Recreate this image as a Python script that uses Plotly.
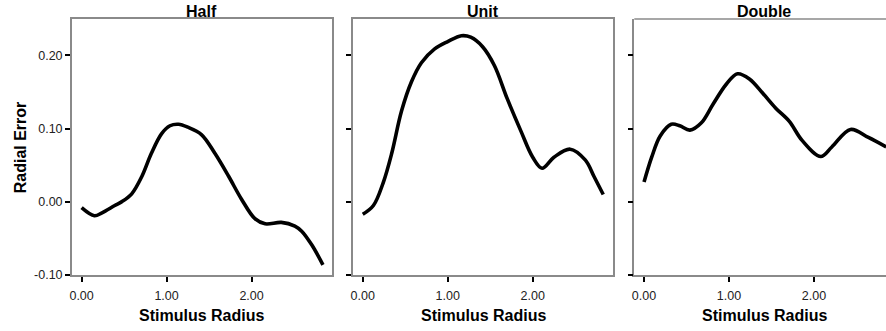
import plotly.graph_objects as go

# ---- data ----
panel_titles = ["Half", "Unit", "Double"]

half_x = [0.00, 0.15, 0.24, 0.39, 0.47, 0.59, 0.71, 0.82, 0.94, 1.04, 1.14, 1.25, 1.41, 1.57, 1.73, 1.88, 2.04, 2.16, 2.35, 2.51, 2.59, 2.71, 2.84]
half_y = [-0.008, -0.019, -0.015, -0.005, 0.000, 0.011, 0.035, 0.066, 0.093, 0.104, 0.106, 0.102, 0.092, 0.066, 0.035, 0.004, -0.023, -0.030, -0.028, -0.033, -0.040, -0.059, -0.086]

unit_x = [0.00, 0.125, 0.24, 0.34, 0.456, 0.573, 0.69, 0.846, 1.00, 1.16, 1.27, 1.41, 1.55, 1.70, 1.86, 2.00, 2.11, 2.25, 2.44, 2.62, 2.72, 2.83]
unit_y = [-0.017, -0.005, 0.026, 0.066, 0.124, 0.164, 0.190, 0.209, 0.219, 0.227, 0.225, 0.212, 0.186, 0.141, 0.097, 0.061, 0.046, 0.061, 0.072, 0.057, 0.035, 0.010]

double_x = [0.00, 0.09, 0.19, 0.32, 0.42, 0.54, 0.675, 0.81, 0.97, 1.10, 1.24, 1.40, 1.55, 1.71, 1.86, 2.08, 2.21, 2.43, 2.64, 2.85]
double_y = [0.027, 0.061, 0.090, 0.106, 0.104, 0.098, 0.108, 0.133, 0.161, 0.175, 0.168, 0.148, 0.128, 0.110, 0.084, 0.062, 0.075, 0.099, 0.088, 0.075]

x_tickvals = [0.0, 1.0, 2.0]
x_ticktext = ["0.00", "1.00", "2.00"]
y_tickvals = [-0.10, 0.0, 0.10, 0.20]
y_ticktext = ["-0.10", "0.00", "0.10", "0.20"]

x_title = "Stimulus Radius"
y_title = "Radial Error"

# ---- layout geometry (pixels) ----
W, H = 886, 331
top_px, bot_px = 19.3, 281.0
panels_px = [(70.0, 330.6), (351.8, 612.4), (633.7, 894.3)]
x_range_full = [-0.115, 2.945]
y_range = [-0.10, 0.25]

ydom = [1 - bot_px / H, 1 - top_px / H]

FONT = "Liberation Sans, Arial, sans-serif"
axis_col = "#8a8a8a"

fig = go.Figure()
series = [(half_x, half_y), (unit_x, unit_y), (double_x, double_y)]
for i, (xs, ys) in enumerate(series):
    sfx = "" if i == 0 else str(i + 1)
    fig.add_trace(go.Scatter(x=xs, y=ys, mode="lines",
                             line=dict(color="black", width=3.6, shape="spline", smoothing=1.0),
                             xaxis="x" + sfx, yaxis="y" + sfx, hoverinfo="skip"))

annotations = []
shapes = []
for i, (l, r) in enumerate(panels_px):
    sfx = "" if i == 0 else str(i + 1)
    r_vis = min(r, W)
    dom = [l / W, r_vis / W]
    px_per_unit = (r - l) / (x_range_full[1] - x_range_full[0])
    xr = [x_range_full[0], x_range_full[0] + (r_vis - l) / px_per_unit]
    mirror = r <= W
    fig.layout["xaxis" + sfx] = dict(
        domain=dom, range=xr, anchor="y" + sfx,
        tickvals=x_tickvals, ticktext=x_ticktext,
        ticks="outside", ticklen=5, tickwidth=2, tickcolor="black",
        ticklabelstandoff=3,
        showline=True, linecolor=axis_col, linewidth=1.5, mirror=mirror,
        showgrid=False, zeroline=False,
        tickfont=dict(family=FONT, size=12.5, color="#222222"),
    )
    fig.layout["yaxis" + sfx] = dict(
        domain=ydom, range=y_range, anchor="x" + sfx,
        tickvals=y_tickvals, ticktext=y_ticktext, showticklabels=(i == 0),
        ticks="outside", ticklen=5, tickwidth=2, tickcolor="black",
        showline=True, linecolor=axis_col, linewidth=1.5, mirror=mirror,
        showgrid=False, zeroline=False,
        tickfont=dict(family=FONT, size=12.5, color="#222222"),
    )
    if not mirror:
        shapes.append(dict(type="line", xref="paper", yref="paper",
                           x0=l / W, x1=1.0, y0=ydom[1], y1=ydom[1],
                           line=dict(color=axis_col, width=1.5)))
    cx = (l + r) / 2 / W
    annotations.append(dict(text="<b>%s</b>" % panel_titles[i], x=cx, y=1 - 11.5 / H,
                            xref="paper", yref="paper", xanchor="center", yanchor="middle",
                            showarrow=False, font=dict(family=FONT, size=16, color="black")))
    annotations.append(dict(text="<b>%s</b>" % x_title, x=cx, y=1 - 322.0 / H,
                            xref="paper", yref="paper", xanchor="center", yanchor="middle",
                            showarrow=False, font=dict(family=FONT, size=16, color="black")))

annotations.append(dict(text="<b>%s</b>" % y_title, x=18.0 / W, y=1 - 150.5 / H,
                        xref="paper", yref="paper", xanchor="center", yanchor="middle",
                        textangle=-90, showarrow=False,
                        font=dict(family=FONT, size=16, color="black")))

fig.update_layout(width=W, height=H, margin=dict(l=0, r=0, t=0, b=0, pad=0),
                  paper_bgcolor="white", plot_bgcolor="white", showlegend=False,
                  annotations=annotations, shapes=shapes)

fig.write_html("out.html", config={"displayModeBar": False})
